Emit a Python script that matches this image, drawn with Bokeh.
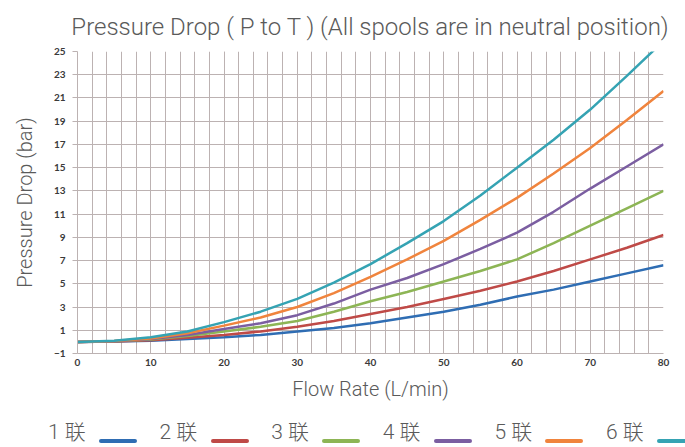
from bokeh.plotting import figure
from bokeh.layouts import column
from bokeh.models import FixedTicker, Div
from bokeh.embed import file_html
from bokeh.resources import INLINE

# ---- data ----
flow = [0, 5, 10, 15, 20, 25, 30, 35, 40, 45, 50, 55, 60, 65, 70, 75, 80]
s1 = [0, 0.03, 0.1, 0.25, 0.4, 0.6, 0.9, 1.2, 1.6, 2.1, 2.6, 3.2, 3.9, 4.5, 5.2, 5.9, 6.6]
s2 = [0, 0.04, 0.15, 0.35, 0.6, 0.9, 1.3, 1.8, 2.4, 3.0, 3.7, 4.4, 5.2, 6.1, 7.1, 8.1, 9.2]
s3 = [0, 0.05, 0.2, 0.5, 0.9, 1.3, 1.8, 2.6, 3.5, 4.3, 5.2, 6.1, 7.1, 8.5, 10.0, 11.5, 13.0]
s4 = [0, 0.06, 0.25, 0.6, 1.1, 1.6, 2.3, 3.3, 4.5, 5.5, 6.7, 8.0, 9.4, 11.2, 13.2, 15.1, 17.0]
s5 = [0, 0.08, 0.3, 0.75, 1.4, 2.1, 3.0, 4.2, 5.6, 7.1, 8.7, 10.5, 12.4, 14.5, 16.7, 19.1, 21.6]
s6 = [0, 0.1, 0.4, 0.9, 1.7, 2.6, 3.7, 5.1, 6.7, 8.5, 10.4, 12.6, 15.0, 17.4, 20.0, 22.9, 25.9]
series = [s1, s2, s3, s4, s5, s6]
labels = ["1 联", "2 联", "3 联", "4 联", "5 联", "6 联"]
colors = ["#2F6DB3", "#BF4A47", "#8DB555", "#7B5EA1", "#F0843D", "#35A3B3"]
x_ticks = [0, 10, 20, 30, 40, 50, 60, 70, 80]
x_minor = list(range(0, 81, 2))
y_ticks = [-1, 1, 3, 5, 7, 9, 11, 13, 15, 17, 19, 21, 23, 25]

grid_color = "#BCB2B2"
text_gray = "#5A5A5A"
light_font = "Roboto Light"

p = figure(width=685, height=407, x_range=(0, 80), y_range=(-1, 25),
           output_backend="svg", toolbar_location=None,
           title="Pressure Drop ( P to T ) (All spools are in neutral position)")
p.min_border_left = 77
p.min_border_right = 22
p.min_border_top = 50
p.min_border_bottom = 54
p.outline_line_color = None
p.background_fill_color = "white"
p.border_fill_color = "white"

p.title.align = "center"
p.title.text_font = light_font
p.title.text_font_style = "normal"
p.title.text_font_size = "24px"
p.title.text_color = text_gray
p.title.standoff = 21

xt = FixedTicker(ticks=x_ticks, minor_ticks=x_minor)
p.xaxis.ticker = xt
p.xgrid.ticker = xt
p.yaxis.ticker = FixedTicker(ticks=y_ticks)

p.xgrid.grid_line_color = grid_color
p.xgrid.minor_grid_line_color = grid_color
p.ygrid.grid_line_color = grid_color

for ax in (p.xaxis[0], p.yaxis[0]):
    ax.axis_line_color = grid_color
    ax.major_tick_line_color = grid_color
    ax.minor_tick_line_color = None
    ax.major_tick_in = 0
    ax.major_label_text_font = "Lato"
    ax.major_label_text_font_style = "bold"
    ax.major_label_text_font_size = "10px"
    ax.major_label_text_color = "#3A3A3A"
    ax.axis_label_text_font = light_font
    ax.axis_label_text_font_style = "normal"
    ax.axis_label_text_font_size = "20px"
    ax.axis_label_text_color = text_gray

p.yaxis.major_tick_out = 5
p.xaxis.major_tick_out = 0
p.yaxis.major_label_standoff = 7
p.xaxis.major_label_standoff = 1
p.yaxis.axis_label = "Pressure Drop (bar)"
p.xaxis.axis_label = "Flow Rate (L/min)"
p.yaxis.axis_label_standoff = 14
p.xaxis.axis_label_standoff = 8

for vals, c in zip(series, colors):
    p.line(flow, vals, line_color=c, line_width=2.5)

# ---- legend strip: each label followed by its colour swatch ----
step = 111.6
parts = []
for i, (lab, c) in enumerate(zip(labels, colors)):
    x0 = 48 + step * i
    parts.append(
        f'<span style="position:absolute;left:{x0:.1f}px;top:14px;line-height:22px;'
        f'font-family:\'Roboto Light\',\'Noto Sans CJK SC\',sans-serif;font-weight:300;'
        f'font-size:21px;color:{text_gray};white-space:pre;">{lab}</span>'
        f'<span style="position:absolute;left:{x0 + 51:.1f}px;top:32px;width:38px;height:4px;'
        f'border-radius:2px;background:{c};"></span>'
    )
legend_html = ('<div style="position:relative;width:685px;height:40px;overflow:hidden;">'
               + "".join(parts) + '</div>')
lg = Div(text=legend_html, width=685, height=40, margin=0)

page = column(p, lg, spacing=0)
open("out.html", "w").write(file_html(page, INLINE))
